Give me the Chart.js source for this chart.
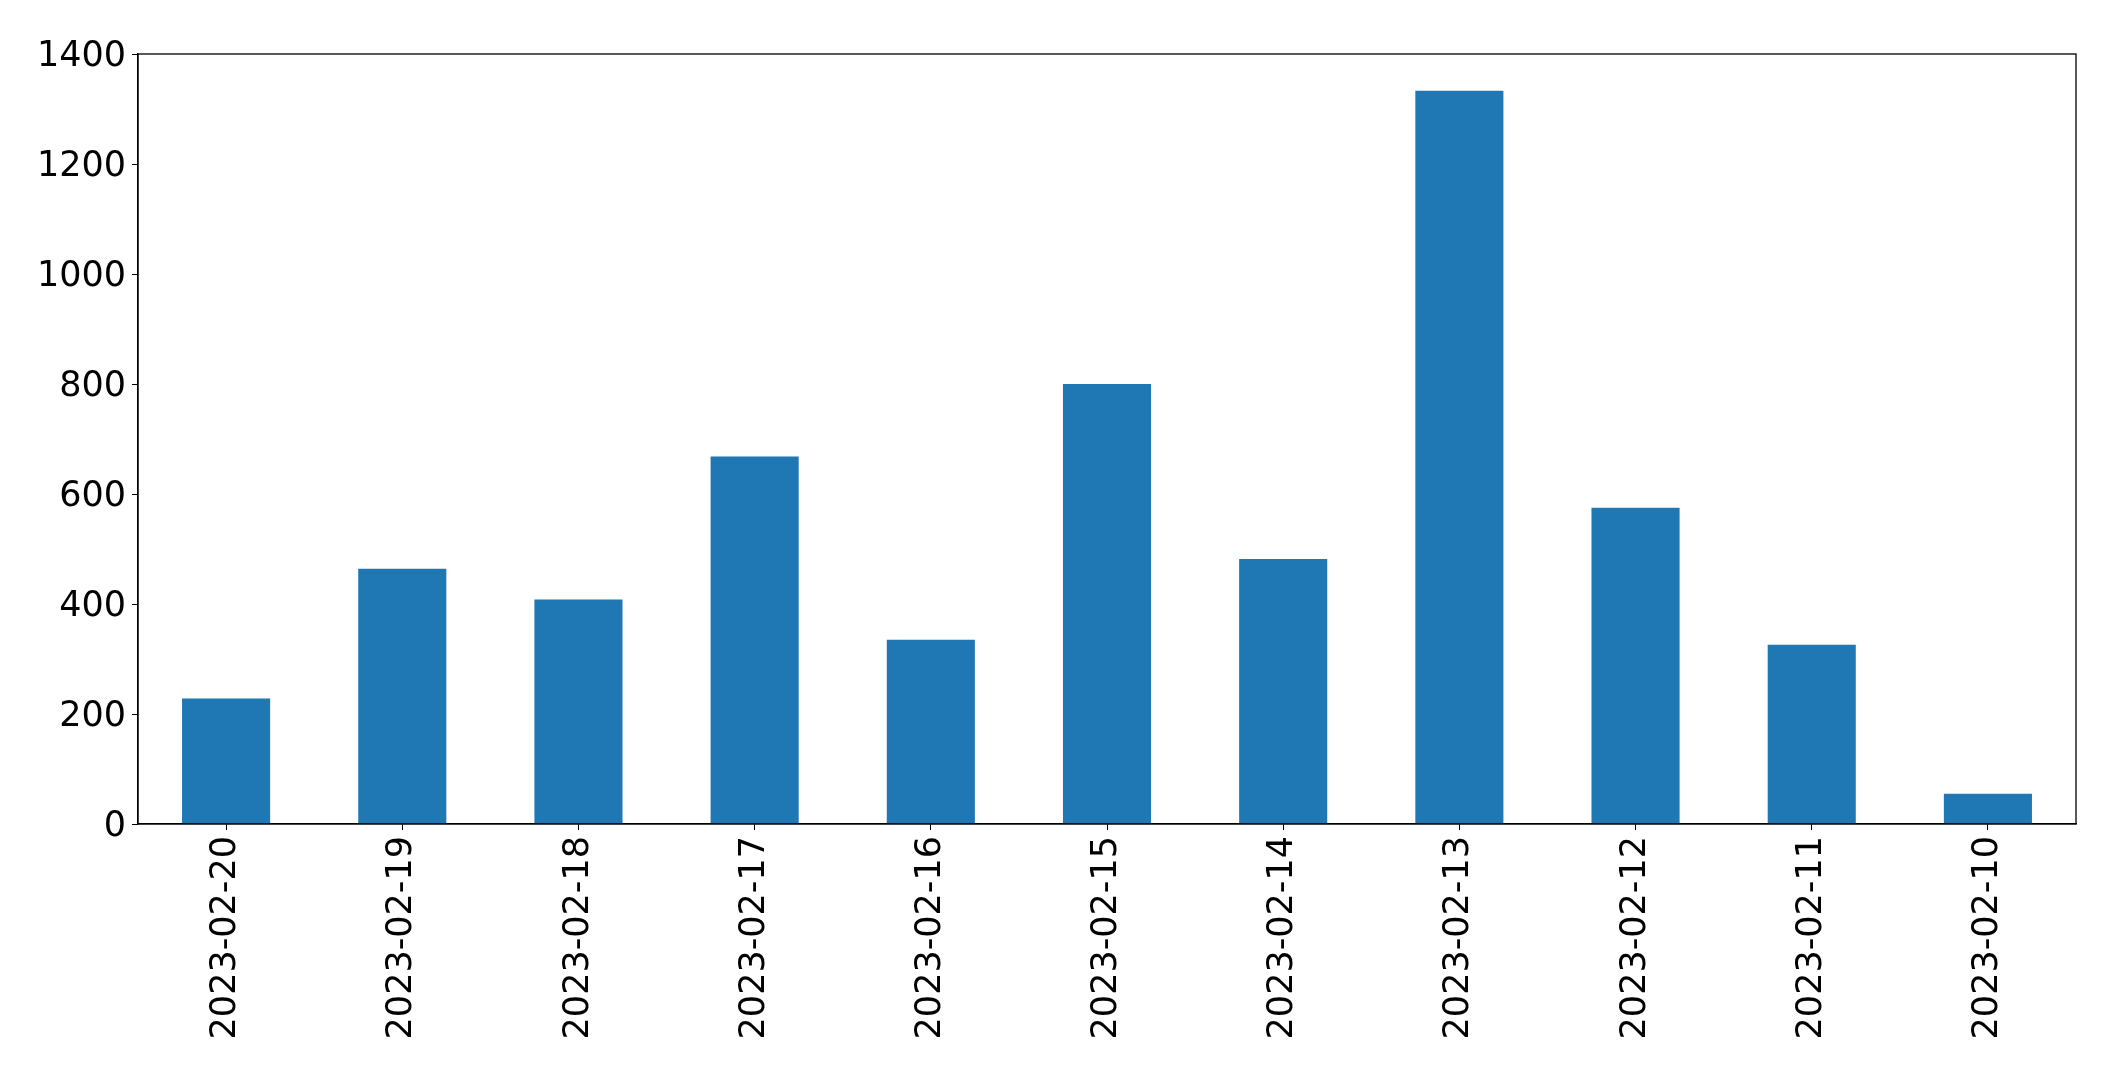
<!DOCTYPE html>
<html>
<head>
<meta charset="utf-8">
<script src="https://cdn.jsdelivr.net/npm/chart.js@4"></script>
<style>
  html, body { margin: 0; padding: 0; background: #fff; }
  #wrap { width: 2115px; height: 1075px; position: relative; }
</style>
</head>
<body>
<div id="wrap"><canvas id="chart"></canvas></div>
<script>
// dates shown newest first, as in the source plot
const dates = ['2023-02-20', '2023-02-19', '2023-02-18', '2023-02-17', '2023-02-16', '2023-02-15',
               '2023-02-14', '2023-02-13', '2023-02-12', '2023-02-11', '2023-02-10'];
const counts = [228, 464, 408, 668, 335, 800, 482, 1333, 575, 326, 55];
const yTicks = [0, 200, 400, 600, 800, 1000, 1200, 1400];

// full box around the plot area (matplotlib style spines)
const frame = {
  id: 'frame',
  afterDraw(chart) {
    const { ctx, chartArea: a } = chart;
    ctx.save();
    ctx.strokeStyle = '#000';
    ctx.lineWidth = 1.3;
    ctx.strokeRect(a.left, a.top, a.right - a.left, a.bottom - a.top);
    ctx.restore();
  }
};

const tickFont = { family: 'DejaVu Sans', size: 35 };

new Chart(document.getElementById('chart'), {
  type: 'bar',
  data: {
    labels: dates,
    datasets: [{
      data: counts,
      backgroundColor: '#1f77b4',
      borderWidth: 0,
      categoryPercentage: 1.0,
      barPercentage: 0.5
    }]
  },
  options: {
    responsive: true,
    maintainAspectRatio: false,
    animation: false,
    layout: { padding: { left: 0, top: 54, right: 39, bottom: 0 } },
    plugins: { legend: { display: false }, tooltip: { enabled: false } },
    scales: {
      x: {
        offset: true,
        grid: { display: true, drawOnChartArea: false, tickLength: 6, tickColor: '#000', offset: false },
        border: { display: true, color: '#000', width: 1.3 },
        ticks: { color: '#000', font: tickFont, minRotation: 90, maxRotation: 90, padding: 6, autoSkip: false },
        afterFit(scale) { scale.height = 251; }
      },
      y: {
        min: 0,
        max: 1400,
        afterBuildTicks(scale) { scale.ticks = yTicks.map(v => ({ value: v })); },
        grid: { display: true, drawOnChartArea: false, tickLength: 6, tickColor: '#000' },
        border: { display: true, color: '#000', width: 1.3 },
        ticks: { color: '#000', font: tickFont, padding: 6, labelOffset: 3, callback: v => String(v) },
        afterFit(scale) { scale.width = 138; }
      }
    }
  },
  plugins: [frame]
});
</script>
</body>
</html>
